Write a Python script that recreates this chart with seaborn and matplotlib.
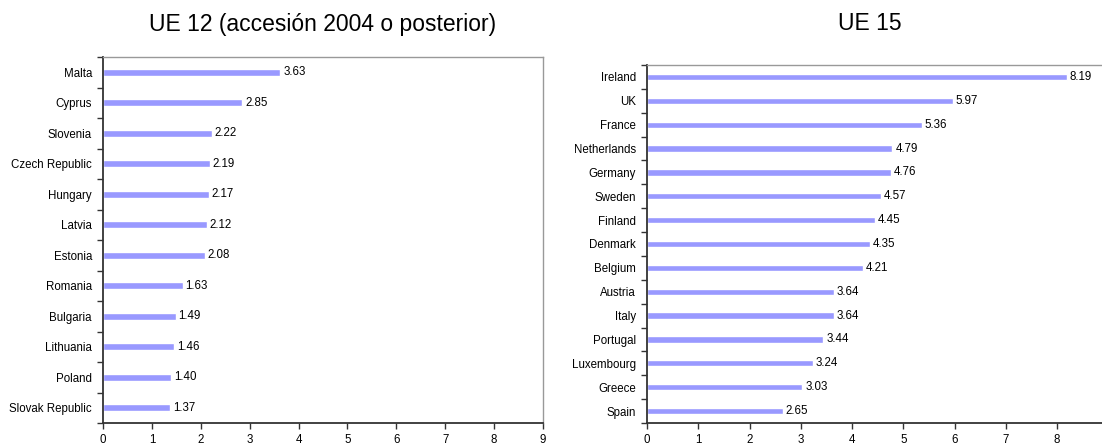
import numpy as np
import pandas as pd
import matplotlib
matplotlib.use("Agg")
import matplotlib.pyplot as plt
import seaborn as sns

# UE 12 (accession 2004 or later)
ue12_countries = ["Malta", "Cyprus", "Slovenia", "Czech Republic", "Hungary", "Latvia",
                  "Estonia", "Romania", "Bulgaria", "Lithuania", "Poland", "Slovak Republic"]
ue12_values = [3.63, 2.85, 2.22, 2.19, 2.17, 2.12, 2.08, 1.63, 1.49, 1.46, 1.40, 1.37]

# UE 15
ue15_countries = ["Ireland", "UK", "France", "Netherlands", "Germany", "Sweden", "Finland",
                  "Denmark", "Belgium", "Austria", "Italy", "Portugal", "Luxembourg",
                  "Greece", "Spain"]
ue15_values = [8.19, 5.97, 5.36, 4.79, 4.76, 4.57, 4.45, 4.35, 4.21, 3.64, 3.64, 3.44,
               3.24, 3.03, 2.65]

titles = ["UE 12 (accesión 2004 o posterior)", "UE 15"]

sns.set_style("white")
plt.rcParams['font.family'] = ['Liberation Sans', 'DejaVu Sans']
plt.rcParams['text.color'] = 'black'
plt.rcParams['xtick.color'] = 'black'
plt.rcParams['ytick.color'] = 'black'

BAR_COLOR = "#9999FF"
FS = 8.3


def draw_panel(ax, countries, values, bar_width, xmax, nticks):
    df = pd.DataFrame({"country": countries, "value": values})
    sns.barplot(data=df, y="country", x="value", order=countries, orient="h",
                color=BAR_COLOR, width=bar_width, saturation=1, ax=ax)
    ax.bar_label(ax.containers[0], fmt="%.2f", padding=2, fontsize=FS)
    n = len(countries)
    ax.set_xlim(0, xmax)
    ax.set_ylim(n - 0.5, -0.5)
    ax.set_xticks(range(nticks))
    ax.set_xlabel("")
    ax.set_ylabel("")
    # category labels without marks, ticks on category boundaries
    ax.tick_params(axis="y", which="major", left=True, length=0, pad=8, labelsize=FS)
    ax.set_yticks(np.arange(-0.5, n, 1.0), minor=True)
    ax.tick_params(axis="y", which="minor", left=True, length=4, direction="out",
                   width=1, color="#333333")
    ax.tick_params(axis="x", bottom=True, length=4, direction="out", width=1,
                   color="#333333", labelsize=FS, pad=4)
    for side in ["left", "bottom"]:
        ax.spines[side].set_color("#333333")
        ax.spines[side].set_linewidth(1.3)
    for side in ["top", "right"]:
        ax.spines[side].set_color("#999999")
        ax.spines[side].set_linewidth(1.0)


fig = plt.figure(figsize=(11.02, 4.46), dpi=100)
W, H = 1102, 446

ax1 = fig.add_axes([103 / W, (H - 423) / H, 440 / W, (423 - 57) / H])
draw_panel(ax1, ue12_countries, ue12_values, 0.22, 9, 10)

# right panel runs off the right edge of the picture, as in the original
ax2 = fig.add_axes([647 / W, (H - 423) / H, (W - 647) / W, (423 - 65) / H])
draw_panel(ax2, ue15_countries, ue15_values, 0.26, (W - 647) / 51.25, 9)
ax2.spines["right"].set_visible(False)

fig.text(323 / W, 1 - 24 / H, titles[0], ha="center", va="center", fontsize=16.5)
fig.text(870 / W, 1 - 24 / H, titles[1], ha="center", va="center", fontsize=16.5)

fig.savefig("out.png", dpi=100)
